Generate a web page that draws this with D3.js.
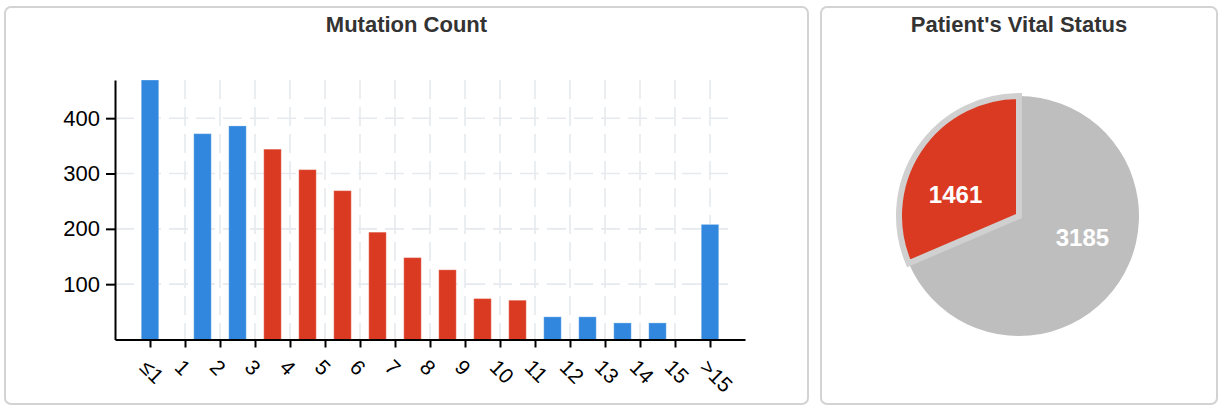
<!DOCTYPE html>
<html>
<head>
<meta charset="utf-8">
<script src="https://cdn.jsdelivr.net/npm/d3@7"></script>
<style>
    body { margin: 0; background: #fff; font-family: "Liberation Sans", Arial, Helvetica, sans-serif; }
    svg { display: block; }
</style>
</head>
<body>
<div id="chart"></div>
<script>
// Mutation count histogram
const tickLabels = ['≤1', '1', '2', '3', '4', '5', '6', '7', '8', '9', '10', '11', '12', '13', '14', '15', '>15'];
const bins = ['≤1', '2', '3', '4', '5', '6', '7', '8', '9', '10', '11', '12', '13', '14', '15', '>15'];
const counts = [469, 372, 386, 344, 307, 269, 194, 148, 126, 74, 71, 41, 41, 30, 30, 208];
const selectedBins = ['4', '5', '6', '7', '8', '9', '10', '11'];
const yTicks = [100, 200, 300, 400];

// Vital status pie
const vitalStatus = ['Living', 'Deceased'];
const vitalCounts = [3185, 1461];
const selectedStatus = 'Deceased';

const BLUE = '#3186de';
const RED = '#db3a22';
const GREY = '#bebebe';

const svg = d3.select('#chart').append('svg')
    .attr('width', 1224)
    .attr('height', 414);

// panels
const panels = [
    { x: 5, w: 803, title: 'Mutation Count' },
    { x: 821, w: 396, title: "Patient's Vital Status" }
];
panels.forEach(p => {
    svg.append('rect')
        .attr('x', p.x).attr('y', 7)
        .attr('width', p.w).attr('height', 397)
        .attr('rx', 6)
        .attr('fill', '#fff')
        .attr('stroke', '#d3d3d3')
        .attr('stroke-width', 2);
    svg.append('text')
        .attr('x', p.x + p.w / 2)
        .attr('y', 32)
        .attr('text-anchor', 'middle')
        .attr('fill', '#333')
        .style('font-size', '22px')
        .style('font-weight', 'bold')
        .text(p.title);
});

// ---- bar chart ----
const xScale = d3.scaleLinear().domain([-1, 17]).range([115, 745]);
const yScale = d3.scaleLinear().domain([0, 469]).range([339.5, 80]);

const binCenter = b => {
    const i = tickLabels.indexOf(b);
    return (b === '≤1' || b === '>15') ? i : i - 0.5;
};

const bar = svg.append('g');

// grid
bar.append('g').selectAll('line')
    .data(yTicks)
    .enter().append('line')
    .attr('x1', xScale(-1)).attr('x2', 735)
    .attr('y1', d => yScale(d)).attr('y2', d => yScale(d))
    .attr('stroke', '#e6eaee')
    .attr('stroke-width', 1.6)
    .attr('stroke-dasharray', '19,8');

bar.append('g').selectAll('line')
    .data(tickLabels)
    .enter().append('line')
    .attr('x1', (d, i) => xScale(i)).attr('x2', (d, i) => xScale(i))
    .attr('y1', yScale.range()[1]).attr('y2', yScale(0))
    .attr('stroke', '#e6eaee')
    .attr('stroke-width', 1.6)
    .attr('stroke-dasharray', '19,8');

// bars
const barWidth = 17.5;
bar.append('g').selectAll('rect')
    .data(bins)
    .enter().append('rect')
    .attr('x', d => xScale(binCenter(d)) - barWidth / 2)
    .attr('y', (d, i) => yScale(counts[i]))
    .attr('width', barWidth)
    .attr('height', (d, i) => yScale(0) - yScale(counts[i]))
    .attr('fill', d => selectedBins.includes(d) ? RED : BLUE)
    .attr('stroke', 'rgba(255,255,255,0.3)')
    .attr('stroke-width', 1);

// axes
const xAxis = d3.axisBottom(xScale)
    .tickValues(d3.range(tickLabels.length))
    .tickFormat(i => tickLabels[i])
    .tickSizeInner(8)
    .tickSizeOuter(0);

const gx = bar.append('g')
    .attr('transform', `translate(0,${yScale(0)})`)
    .call(xAxis);
gx.selectAll('text')
    .attr('x', 0).attr('y', 0).attr('dy', 0)
    .attr('text-anchor', 'start')
    .attr('transform', 'translate(-12,29) rotate(45)')
    .attr('fill', '#000')
    .style('font-size', '21px')
    .style('font-family', '"Liberation Sans", Arial, sans-serif');

const yAxis = d3.axisLeft(yScale)
    .tickValues(yTicks)
    .tickSizeInner(9)
    .tickSizeOuter(0)
    .tickPadding(6);

const gy = bar.append('g')
    .attr('transform', `translate(${xScale(-1)},0)`)
    .call(yAxis);
gy.selectAll('text')
    .attr('fill', '#000')
    .style('font-size', '22px')
    .style('font-family', '"Liberation Sans", Arial, sans-serif');

[gx, gy].forEach(g => {
    g.select('.domain').attr('stroke', '#000').attr('stroke-width', 2);
    g.selectAll('.tick line').attr('stroke', '#000').attr('stroke-width', 2);
});

// ---- pie chart ----
const radius = 120;
const pieData = d3.pie().sort(null).value((d, i) => vitalCounts[i])(vitalStatus);
const arc = d3.arc().innerRadius(0).outerRadius(radius);
const labelArc = d3.arc().innerRadius(67).outerRadius(67);
const labelShift = -14.7 * Math.PI / 180;

const pie = svg.append('g').attr('transform', 'translate(1019,216)');

pie.selectAll('path')
    .data(pieData)
    .enter().append('path')
    .attr('d', arc)
    .attr('fill', d => d.data === selectedStatus ? RED : GREY)
    .attr('stroke', d => d.data === selectedStatus ? '#d0d0d0' : 'none')
    .attr('stroke-width', 6)
    .attr('stroke-linejoin', 'miter');

pie.selectAll('text')
    .data(pieData)
    .enter().append('text')
    .attr('transform', d => {
        const c = labelArc.centroid({ startAngle: d.startAngle + labelShift, endAngle: d.endAngle + labelShift });
        return `translate(${c[0]},${c[1]})`;
    })
    .attr('text-anchor', 'middle')
    .attr('dy', '0.36em')
    .attr('fill', '#fff')
    .style('font-size', '24px')
    .style('font-weight', 'bold')
    .text(d => d.value);
</script>
</body>
</html>
